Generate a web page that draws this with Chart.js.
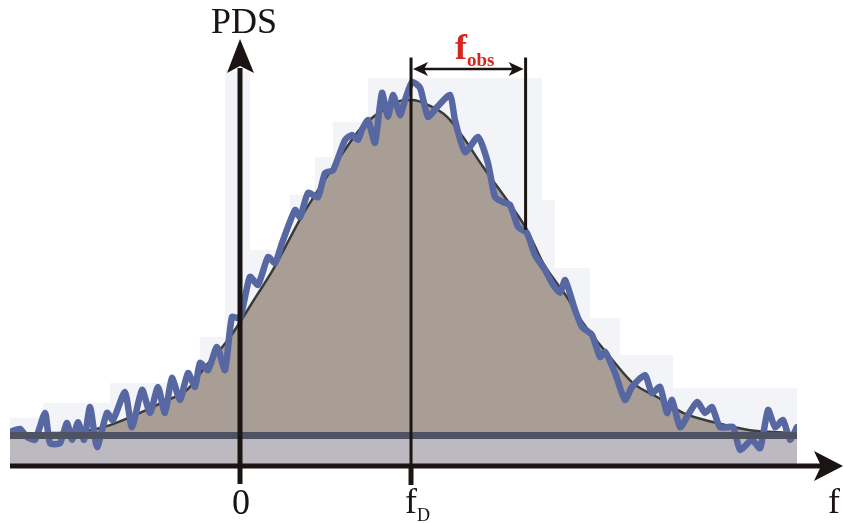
<!DOCTYPE html>
<html>
<head>
<meta charset="utf-8">
<script src="https://cdn.jsdelivr.net/npm/chart.js@4/dist/chart.umd.min.js"></script>
<style>
  html, body { margin: 0; padding: 0; background: #fff; }
  #wrap { width: 844px; height: 523px; }
</style>
</head>
<body>
<div id="wrap"><canvas id="pds" width="844" height="523"></canvas></div>
<script>
// frequency axis: 0 at the PDS axis, f_D = 10
const F_MIN = -13.45, F_MAX = 32.57;
const F_D = 10;
const F_OBS = 16.7;
const FLOOR = 7.0;

// measured (noisy) spectrum
const noisyF = [-13.45, -12.87, -12.46, -11.99, -11.40, -11.11, -10.53, -10.12, -9.82, -9.47, -9.12, -8.77, -8.36,
  -7.78, -7.43, -6.73, -6.32, -5.73, -5.26, -4.80, -4.39, -3.98, -3.51, -3.04, -2.63, -2.34, -1.87, -1.35, -0.88,
  -0.47, 0, 0.58, 1.05, 1.64, 2.05, 2.46, 3.22, 3.51, 3.98, 4.56, 4.97, 5.44, 6.14, 6.55, 6.90, 7.13, 7.49, 7.89,
  8.30, 8.65, 8.95, 9.36, 9.65, 10.06, 10.53, 10.99, 11.52, 12.28, 12.57, 13.16, 13.92, 14.50, 14.91, 15.38, 15.79,
  16.26, 16.78, 17.25, 17.84, 18.25, 18.71, 19.01, 19.59, 20.00, 20.58, 21.05, 21.35, 21.93, 22.51, 22.92, 23.68,
  24.09, 24.56, 24.97, 25.26, 25.73, 26.20, 26.73, 27.19, 27.60, 28.07, 28.83, 29.24, 29.94, 30.41, 30.88, 31.29,
  31.75, 32.16, 32.57];
const noisyPds = [7.9, 8.6, 6.7, 6.0, 12.4, 5.2, 5.2, 10.0, 6.0, 10.2, 6.0, 13.8, 4.3,
  12.4, 10.7, 17.4, 9.0, 17.9, 12.4, 18.6, 12.4, 20.7, 15.5, 21.9, 18.6, 24.3, 22.6, 28.1, 22.6,
  35.2, 35.0, 44.8, 42.9, 49.5, 48.1, 52.9, 60.7, 59.0, 64.8, 63.8, 69.5, 70.2, 77.4, 78.6, 77.4, 79.8, 82.1, 76.7,
  88.6, 82.9, 88.1, 83.3, 86.9, 91.2, 89.8, 82.9, 85.2, 88.1, 82.1, 74.5, 78.1, 71.9, 63.8, 62.6, 61.9,
  56.7, 55.2, 50.0, 46.4, 43.3, 41.0, 44.0, 36.9, 32.9, 31.0, 25.7, 26.9, 21.9, 15.5, 18.6, 21.4,
  17.1, 18.6, 12.4, 15.5, 9.0, 11.9, 15.0, 12.4, 13.8, 9.0, 9.0, 3.6, 6.0, 4.0, 13.1, 9.0,
  10.7, 6.0, 9.0];

// fitted (smooth) spectrum
const smoothF = [-13.45, -11.11, -9.36, -7.60, -5.85, -4.39, -3.10, -2.05, -0.70, 1.00, 1.93, 3.51, 4.09, 5.73,
  7.13, 8.36, 9.36, 10.06, 11.11, 12.11, 13.04, 14.21, 15.61, 16.78, 17.72, 19.12, 20.06, 21.64, 22.98, 24.39,
  25.91, 27.89, 29.82, 32.16, 32.57];
const smoothPds = [7.4, 7.6, 7.9, 9.5, 12.4, 15.2, 17.9, 23.3, 29.8, 40.5, 46.5, 58.5, 62.4, 72.6,
  80.5, 84.5, 86.7, 86.9, 85.5, 82.9, 78.1, 71.0, 63.1, 56.0, 48.1, 40.0, 33.8, 25.7, 19.5, 16.2,
  12.4, 10.0, 8.3, 7.6, 7.4];

// light scanned backdrop behind the curves (stepped, each value holds from its own f to the next)
const bgF = [-13.45, -11.52, -7.60, -2.34, -0.88, 0.58, 2.92, 4.39, 5.44, 7.49, 17.66, 18.42, 20.47, 22.22, 25.32, 32.57];
const bgPds = [11.2, 14.8, 19.5, 30.5, 94.0, 51.2, 64.3, 73.3, 81.7, 92.1, 63.1, 46.9, 35.0, 26.2, 18.3, 18.3];

const pts = (xs, ys) => xs.map((v, i) => ({ x: v, y: ys[i] }));

const overlay = {
  id: 'overlay',
  afterDatasetsDraw(chart) {
    const { ctx, scales: { x, y } } = chart;
    const ink = '#1a1412';
    const x0 = x.getPixelForValue(0);
    const xd = x.getPixelForValue(F_D);
    const xo = x.getPixelForValue(F_OBS);
    const yAx = y.getPixelForValue(0) + 1;
    const yTop = y.getPixelForValue(97);
    const yArr = y.getPixelForValue(94.3);

    ctx.save();
    ctx.strokeStyle = ink;
    ctx.fillStyle = ink;

    // marker lines at f_D and f_D + f_obs
    ctx.lineWidth = 3;
    ctx.beginPath();
    ctx.moveTo(xd, yTop); ctx.lineTo(xd, yAx + 19);
    ctx.moveTo(xo, yTop); ctx.lineTo(xo, y.getPixelForValue(56));
    ctx.stroke();
    ctx.lineWidth = 5;
    ctx.beginPath();
    ctx.moveTo(xd, yAx); ctx.lineTo(xd, yAx + 19);
    ctx.stroke();

    // f_obs double arrow
    ctx.lineWidth = 2.5;
    ctx.beginPath();
    ctx.moveTo(xd + 8, yArr); ctx.lineTo(xo - 8, yArr);
    ctx.stroke();
    ctx.beginPath();
    ctx.moveTo(xd + 2, yArr); ctx.lineTo(xd + 17, yArr - 7); ctx.lineTo(xd + 13, yArr); ctx.lineTo(xd + 17, yArr + 7);
    ctx.closePath(); ctx.fill();
    ctx.beginPath();
    ctx.moveTo(xo - 2, yArr); ctx.lineTo(xo - 17, yArr - 7); ctx.lineTo(xo - 13, yArr); ctx.lineTo(xo - 17, yArr + 7);
    ctx.closePath(); ctx.fill();

    // frequency axis
    ctx.lineWidth = 5;
    ctx.beginPath();
    ctx.moveTo(x.getPixelForValue(F_MIN), yAx); ctx.lineTo(822, yAx);
    ctx.stroke();
    ctx.beginPath();
    ctx.moveTo(843, yAx); ctx.lineTo(814, yAx - 15); ctx.lineTo(821, yAx); ctx.lineTo(814, yAx + 15);
    ctx.closePath(); ctx.fill();

    // PDS axis
    ctx.beginPath();
    ctx.moveTo(x0, yAx + 18); ctx.lineTo(x0, 68);
    ctx.stroke();
    ctx.beginPath();
    ctx.moveTo(x0, 39); ctx.lineTo(x0 - 13, 73); ctx.lineTo(x0, 66); ctx.lineTo(x0 + 14, 73);
    ctx.closePath(); ctx.fill();

    // labels
    ctx.textBaseline = 'alphabetic';
    ctx.font = '36px "Liberation Serif", "Times New Roman", serif';
    ctx.textAlign = 'center';
    ctx.fillText('PDS', x0 + 4, 33);
    ctx.fillText('0', x0 + 1, 514);
    ctx.textAlign = 'left';
    ctx.fillText('f', xd - 6, 513);
    ctx.fillText('f', 828, 513);
    ctx.font = '18px "Liberation Serif", "Times New Roman", serif';
    ctx.fillText('D', xd + 6, 521);

    ctx.fillStyle = '#d6261d';
    ctx.font = 'bold 36px "Liberation Serif", "Times New Roman", serif';
    ctx.fillText('f', 455, 59);
    ctx.font = 'bold 19px "Liberation Serif", "Times New Roman", serif';
    ctx.fillText('obs', 467, 66);
    ctx.restore();
  }
};

new Chart(document.getElementById('pds'), {
  type: 'line',
  data: {
    datasets: [
      {
        data: pts(bgF, bgPds), stepped: 'before', borderWidth: 0, pointRadius: 0,
        backgroundColor: '#f3f4f7', fill: 'start', order: 7
      },
      {
        data: pts([F_MIN, F_MAX], [FLOOR, FLOOR]), borderWidth: 0, pointRadius: 0,
        backgroundColor: '#bdb9c1', fill: 'start', order: 6
      },
      {
        data: pts(smoothF, smoothPds), borderColor: '#3a3a3c', borderWidth: 2.5, pointRadius: 0,
        cubicInterpolationMode: 'monotone', backgroundColor: '#a89e95', fill: { value: FLOOR }, order: 5
      },
      {
        data: pts(noisyF, noisyPds), borderColor: '#5767a1', borderWidth: 6.5, pointRadius: 0,
        tension: 0.2, fill: false, borderJoinStyle: 'round', borderCapStyle: 'round', order: 4
      },
      {
        data: pts([F_MIN, F_MAX], [FLOOR, FLOOR]), borderColor: '#4e5364', borderWidth: 7, pointRadius: 0,
        fill: false, order: 3
      }
    ]
  },
  options: {
    responsive: false,
    animation: false,
    layout: { padding: { left: 10, right: 47, top: 45, bottom: 58 } },
    scales: {
      x: { type: 'linear', min: F_MIN, max: F_MAX, display: false },
      y: { type: 'linear', min: 0, max: 100, display: false }
    },
    plugins: { legend: { display: false }, tooltip: { enabled: false } }
  },
  plugins: [overlay]
});
</script>
</body>
</html>
